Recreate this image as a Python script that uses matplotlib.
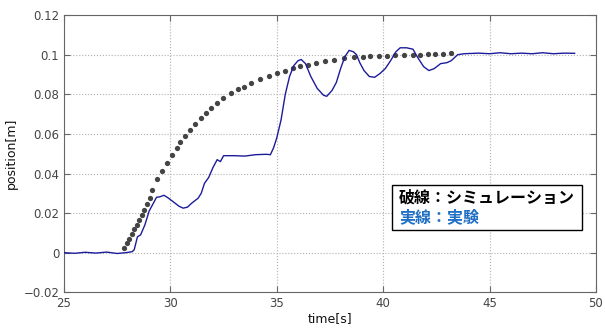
import matplotlib
matplotlib.use("Agg")
import matplotlib.pyplot as plt
from matplotlib.patches import Rectangle

# Simulation (dotted) points
sim_t = [27.82, 27.94, 28.05, 28.18, 28.29, 28.41, 28.52, 28.65, 28.77, 28.90,
         29.02, 29.15, 29.38, 29.61, 29.85, 30.08, 30.29, 30.45, 30.68, 30.92,
         31.15, 31.42, 31.67, 31.93, 32.20, 32.48, 32.84, 33.18, 33.45, 33.81,
         34.20, 34.64, 35.01, 35.38, 35.74, 36.11, 36.48, 36.86, 37.29, 37.68,
         38.15, 38.62, 39.05, 39.40, 39.79, 40.18, 40.57, 41.00, 41.40, 41.71,
         42.10, 42.42, 42.81, 43.20]
sim_y = [0.0022, 0.0047, 0.0071, 0.0094, 0.0118, 0.0141, 0.0165, 0.0190, 0.0216, 0.0244,
         0.0275, 0.0317, 0.0370, 0.0412, 0.0454, 0.0493, 0.0527, 0.0560, 0.0589, 0.0619,
         0.0650, 0.0678, 0.0704, 0.0732, 0.0757, 0.0779, 0.0805, 0.0825, 0.0838, 0.0855,
         0.0875, 0.0894, 0.0909, 0.0919, 0.0932, 0.0943, 0.0950, 0.0956, 0.0966, 0.0973,
         0.0981, 0.0988, 0.0991, 0.0993, 0.0994, 0.0995, 0.0997, 0.0999, 0.1000, 0.1001,
         0.1003, 0.1004, 0.1005, 0.1007]

# Experiment (solid) points
exp_t = [25.0, 25.5, 26.0, 26.5, 27.0, 27.5, 27.9, 28.2, 28.3, 28.45,
         28.6, 28.8, 29.0, 29.2, 29.35, 29.5, 29.7, 29.85, 30.1, 30.4,
         30.6, 30.8, 31.0, 31.3, 31.45, 31.6, 31.8, 32.0, 32.2, 32.35,
         32.5, 33.0, 33.5, 34.0, 34.5, 34.7, 34.85, 35.0, 35.2, 35.4,
         35.6, 35.8, 36.0, 36.15, 36.35, 36.6, 36.9, 37.2, 37.35, 37.6,
         37.8, 38.0, 38.2, 38.4, 38.6, 38.75, 38.9, 39.1, 39.35, 39.6,
         39.85, 40.1, 40.35, 40.6, 40.8, 41.1, 41.4, 41.6, 41.9, 42.15,
         42.4, 42.7, 43.0, 43.2, 43.5, 43.8, 44.5, 45.0, 45.5, 46.0,
         46.5, 47.0, 47.5, 48.0, 48.5, 49.0]
exp_y = [0.0, -0.0003, 0.0002, -0.0002, 0.0003, -0.0004, 0.0, 0.0005, 0.0015, 0.008,
         0.009, 0.014, 0.021, 0.025, 0.028, 0.0282, 0.029, 0.028, 0.026, 0.0235,
         0.0225, 0.023, 0.025, 0.0275, 0.030, 0.035, 0.038, 0.043, 0.047, 0.046,
         0.049, 0.049, 0.0488, 0.0495, 0.0497, 0.0495, 0.053, 0.058, 0.067, 0.080,
         0.089, 0.0945, 0.097, 0.0976, 0.0955, 0.089, 0.083, 0.0795, 0.079, 0.082,
         0.086, 0.093, 0.099, 0.1022, 0.1015, 0.100, 0.096, 0.092, 0.089, 0.0886,
         0.0905, 0.093, 0.097, 0.1015, 0.1035, 0.1035, 0.1028, 0.099, 0.094, 0.092,
         0.093, 0.0955, 0.096, 0.097, 0.100, 0.1005, 0.1008, 0.1005, 0.101, 0.1005,
         0.1008, 0.1005, 0.101, 0.1005, 0.1008, 0.1007]

xticks = [25, 30, 35, 40, 45, 50]
yticks = [-0.02, 0, 0.02, 0.04, 0.06, 0.08, 0.1, 0.12]
ytick_labels = ["\u22120.02", "0", "0.02", "0.04", "0.06", "0.08", "0.1", "0.12"]

plt.rcParams['font.family'] = ['DejaVu Sans']
fig = plt.figure(figsize=(6.05, 3.29), dpi=100)
ax = fig.add_axes([0.1058, 0.1116, 0.8792, 0.8424])

ax.plot(sim_t, sim_y, linestyle='none', marker='o', markersize=3.8,
        color='#444444', markeredgewidth=0, zorder=3)
ax.plot(exp_t, exp_y, color='#1c1c9a', linewidth=1.0, zorder=4)

ax.set_xlim(25, 50)
ax.set_ylim(-0.02, 0.12)
ax.set_xticks(xticks)
ax.set_yticks(yticks)
ax.set_yticklabels(ytick_labels)
ax.tick_params(direction='in', top=True, right=True, labelsize=8.5,
               colors='#666666', length=4, labelcolor='#444444')
for s in ax.spines.values():
    s.set_color('#666666')
    s.set_linewidth(0.8)
ax.grid(True, linestyle=':', color='#b0b0b0', linewidth=0.8)
ax.set_xlabel('time[s]', fontsize=9, labelpad=1, color='#111111')
ax.set_ylabel('position[m]', fontsize=9, labelpad=4, color='#111111')

# annotation box
bx0, by0 = 392 / 605, 1 - 230 / 329
bw, bh = (582 - 392) / 605, (230 - 185) / 329
fig.patches.append(Rectangle((bx0, by0), bw, bh, transform=fig.transFigure,
                             facecolor='white', edgecolor='black', linewidth=1.0, zorder=10))
fig.text(399 / 605, 1 - 198 / 329, '破線：シミュレーション', fontsize=11.5,
         family=['Noto Sans CJK JP', 'DejaVu Sans'], fontweight='bold',
         color='black', va='center', ha='left', zorder=11)
fig.text(399 / 605, 1 - 217 / 329, '実線：実験', fontsize=11.5,
         family=['Noto Sans CJK JP', 'DejaVu Sans'], fontweight='bold',
         color='#1f6fc5', va='center', ha='left', zorder=11)

fig.savefig('out.png', dpi=100)
